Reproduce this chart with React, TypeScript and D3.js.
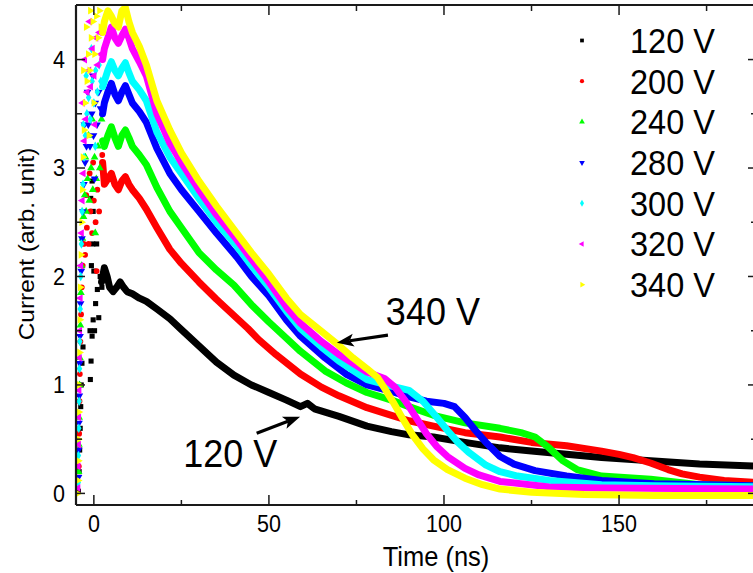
import React from 'react';
import * as d3 from 'd3';

const W = 753, H = 573;
const LEFT = 76, RIGHT = 757, TOP = 5, BOTTOM = 505;
const X_DOMAIN: [number, number] = [-5.1, 189.4];
const Y_DOMAIN: [number, number] = [-0.107, 4.503];

// ---- data ----
const seriesLabels = ['120 V', '200 V', '240 V', '280 V', '300 V', '320 V', '340 V'];

const rise120 = [[-4.4,0.02],[-4.2,0.2],[-4.05,0.4],[-3.9,0.6],[-3.75,0.8],[-3.6,1.0],[-3.4,1.2],[-3.1,1.35],[-1.0,1.05],[-0.8,1.22],[-0.5,1.45],[-0.2,1.6],[0.2,1.5],[-0.7,2.1],[-0.3,2.3],[-0.9,2.72],[-0.5,2.88],[-0.2,2.6],[0.5,1.75],[1.0,1.88],[1.4,1.62],[1.8,2.0],[2.3,1.9],[0.0,2.05],[-1.1,1.5],[0.8,2.3]];
const rise200 = [[-4.3,0.25],[-4.2,0.55],[-4.1,0.85],[-4.0,1.1],[-3.85,1.4],[-3.65,1.65],[-3.45,1.9],[-3.2,2.1],[-2.9,2.3],[-2.5,2.2],[-2.0,2.45],[-1.5,2.3],[-1.0,2.6],[-0.5,2.4],[0.0,2.7],[0.5,2.5],[1.0,2.8],[1.5,2.6],[2.0,3.0],[2.4,3.12],[-1.2,2.95],[-0.2,3.05],[0.8,2.05],[-2.2,2.75]];
const rise240 = [[-4.35,0.2],[-4.3,0.45],[-4.2,0.7],[-4.1,1.0],[-4.0,1.25],[-3.85,1.55],[-3.7,1.85],[-3.5,2.1],[-3.25,2.35],[-2.95,2.55],[-2.6,2.75],[-2.2,2.6],[-1.8,2.9],[-1.3,2.7],[-0.8,3.0],[-0.3,2.8],[0.2,3.1],[0.7,2.9],[1.2,3.2],[1.7,3.0],[2.2,3.45],[-1.5,3.3],[-0.5,3.45],[0.4,2.4],[-2.4,3.1]];
const rise280 = [[-4.4,0.15],[-4.35,0.4],[-4.25,0.65],[-4.15,0.9],[-4.05,1.2],[-3.95,1.45],[-3.8,1.75],[-3.6,2.05],[-3.4,2.35],[-3.15,2.6],[-2.85,2.85],[-2.5,3.05],[-2.1,3.2],[-1.6,3.4],[-1.1,3.2],[-0.6,3.5],[-0.1,3.3],[0.4,3.6],[0.9,3.4],[1.4,3.7],[1.9,3.55],[-1.8,3.7],[-0.3,3.85],[0.2,2.9],[-2.7,3.4]];
const rise300 = [[-4.45,0.1],[-4.4,0.35],[-4.3,0.6],[-4.2,0.85],[-4.1,1.15],[-4.0,1.4],[-3.9,1.7],[-3.75,2.0],[-3.55,2.3],[-3.35,2.6],[-3.1,2.85],[-2.8,3.1],[-2.4,3.3],[-2.0,3.5],[-1.5,3.65],[-1.0,3.45],[-0.5,3.8],[0.0,3.6],[0.5,3.9],[1.0,3.7],[1.5,3.95],[2.0,3.8],[-2.2,3.85],[-0.7,4.1],[0.4,3.2],[-3.0,3.4]];
const rise320 = [[-4.5,0.05],[-4.45,0.25],[-4.35,0.45],[-4.3,0.7],[-4.2,0.95],[-4.1,1.25],[-4.0,1.5],[-3.85,1.8],[-3.7,2.1],[-3.5,2.4],[-3.3,2.7],[-3.0,2.95],[-2.7,3.25],[-2.3,3.45],[-1.9,3.7],[-1.4,3.9],[-0.9,3.75],[-0.4,4.1],[0.1,3.85],[0.6,4.2],[1.1,3.95],[1.6,4.25],[2.0,4.05],[-2.6,4.0],[-1.2,4.35],[0.3,3.4],[-3.2,3.6]];
const rise340 = [[-4.6,0.0],[-4.5,0.12],[-4.45,0.3],[-4.4,0.5],[-4.3,0.75],[-4.2,1.0],[-4.1,1.3],[-4.0,1.6],[-3.9,1.9],[-3.7,2.2],[-3.5,2.5],[-3.3,2.8],[-3.1,3.1],[-2.8,3.35],[-2.5,3.6],[-2.0,3.8],[-1.6,4.05],[-1.2,3.9],[-0.8,4.2],[-0.3,4.35],[0.2,4.05],[0.7,4.4],[1.2,4.2],[1.6,4.45],[2.0,4.3],[-2.2,4.3],[-1.0,4.45],[0.0,3.6],[-3.0,3.9],[-1.4,3.3]];

const decay120 = [[2.2,1.95],[3,2.08],[3.8,2.0],[4.5,1.9],[5.5,1.86],[6.5,1.9],[7.5,1.95],[8.5,1.9],[9.5,1.86],[11,1.84],[13,1.8],[15,1.77],[18,1.7],[21.7,1.61],[25,1.51],[30,1.36],[35,1.21],[40,1.09],[45,1.0],[50,0.93],[55,0.86],[59,0.8],[61,0.83],[63,0.78],[70,0.71],[78,0.62],[85,0.57],[90,0.54],[97,0.52],[106,0.47],[116,0.42],[125,0.39],[135,0.36],[145,0.33],[159,0.3],[173,0.27],[190,0.25]];
const decay200 = [[2.5,3.05],[3,2.85],[4,2.9],[5,2.95],[6,2.85],[7,2.8],[8,2.88],[9,2.92],[10,2.85],[11,2.8],[13,2.72],[15,2.62],[18,2.45],[21.7,2.25],[25,2.12],[30,1.95],[35,1.79],[40,1.64],[44,1.52],[47,1.42],[52,1.28],[59,1.1],[65,0.98],[70,0.9],[78,0.79],[85,0.72],[90,0.67],[97,0.62],[106,0.56],[116,0.52],[125,0.47],[135,0.44],[145,0.39],[150,0.36],[154,0.33],[159,0.28],[164,0.22],[168,0.18],[173,0.15],[180,0.12],[190,0.1]];
const decay240 = [[2.5,3.25],[3,3.2],[4,3.3],[5,3.38],[6,3.28],[7,3.2],[8,3.3],[9,3.35],[10,3.28],[11,3.2],[13,3.12],[15,3.03],[18,2.82],[21.7,2.6],[25,2.45],[30,2.22],[35,2.06],[40,1.92],[45,1.74],[50,1.58],[55,1.43],[59,1.31],[66,1.13],[72,1.02],[78,0.93],[85,0.86],[90,0.8],[97,0.72],[106,0.65],[116,0.6],[122,0.56],[126,0.52],[130,0.42],[134,0.3],[138,0.22],[145,0.16],[159,0.13],[173,0.08],[190,0.07]];
const decay280 = [[2.5,3.5],[3,3.6],[4,3.7],[5,3.78],[6,3.68],[7,3.62],[8,3.7],[9,3.76],[10,3.68],[11,3.6],[13,3.52],[15,3.42],[18,3.18],[21.7,2.95],[25,2.8],[30,2.6],[35,2.4],[40.8,2.18],[45,2.0],[50,1.82],[55,1.6],[59,1.45],[66,1.25],[72,1.1],[78,1.0],[85,0.94],[90,0.89],[95,0.85],[100,0.83],[103,0.8],[106,0.7],[109,0.58],[112,0.47],[116,0.34],[120,0.27],[126,0.21],[135,0.16],[145,0.12],[160,0.09],[175,0.08],[190,0.07]];
const decay300 = [[2.5,3.75],[3,3.8],[4,3.9],[5,3.98],[6,3.9],[7,3.85],[8,3.92],[9,3.97],[10,3.88],[11,3.8],[13,3.72],[15,3.62],[18,3.33],[21.7,3.1],[25,2.95],[30,2.72],[35,2.5],[40.8,2.28],[45,2.1],[50,1.9],[55,1.68],[59,1.52],[65,1.35],[70,1.22],[78,1.05],[85,0.99],[90,0.95],[94,0.85],[98,0.7],[101,0.58],[104,0.47],[107,0.38],[112,0.26],[116,0.2],[121,0.16],[130,0.12],[145,0.08],[160,0.07],[190,0.06]];
const decay320 = [[2.5,4.0],[3,4.1],[4,4.2],[5,4.3],[6,4.2],[7,4.15],[8,4.22],[9,4.28],[10,4.2],[11,4.1],[13,3.98],[15,3.85],[18,3.5],[21.7,3.23],[25,3.05],[30,2.8],[35,2.57],[40.8,2.34],[45,2.16],[50,1.95],[55,1.72],[59,1.57],[65,1.4],[70,1.28],[78,1.12],[83,1.06],[86,0.98],[89,0.85],[92,0.7],[95,0.55],[98,0.43],[101,0.34],[106,0.23],[110,0.17],[116,0.11],[130,0.06],[145,0.05],[190,0.04]];
const decay340 = [[2.5,4.25],[3,4.35],[4,4.45],[5,4.4],[6,4.33],[7,4.3],[8,4.45],[9,4.48],[10,4.35],[11,4.25],[13,4.12],[15,3.95],[18,3.62],[21.7,3.35],[25,3.14],[30,2.88],[35,2.65],[40.8,2.4],[45,2.22],[50,2.02],[55,1.8],[59,1.65],[64,1.52],[69.4,1.38],[74,1.25],[78,1.15],[81,1.07],[83,0.97],[85.5,0.84],[88,0.7],[91,0.54],[94,0.41],[97,0.31],[101,0.22],[106,0.14],[111,0.08],[116,0.04],[125,0.01],[140,-0.01],[160,-0.02],[190,-0.02]];

const riseData = [rise120, rise200, rise240, rise280, rise300, rise320, rise340];
const decayData = [decay120, decay200, decay240, decay280, decay300, decay320, decay340];

const xMajorTicks = [0, 50, 100, 150];
const xMinorTicks = [25, 75, 125, 175];
const yMajorTicks = [0, 1, 2, 3, 4];
const yMinorTicks = [0.5, 1.5, 2.5, 3.5];

const xTitle = 'Time (ns)';
const yTitle = 'Current (arb. unit)';

const annoLabels = ['340 V', '120 V'];
const annoTip = [[69.4, 1.39], [58.9, 0.707]];
const annoTail = [[84.0, 1.46], [46.5, 0.554]];
const annoText = [[83.4, 1.55], [25.5, 0.244]];

// ---- styles ----
const COLORS = ['#000000', '#ff0000', '#00ff00', '#0000ff', '#00ffff', '#ff00ff', '#ffff00'];
const SYMS = [
  { type: d3.symbolSquare, rot: 0 },
  { type: d3.symbolCircle, rot: 0 },
  { type: d3.symbolTriangle, rot: 0 },
  { type: d3.symbolTriangle, rot: 180 },
  { type: d3.symbolDiamond, rot: 0 },
  { type: d3.symbolTriangle, rot: -90 },
  { type: d3.symbolTriangle, rot: 90 },
];
const FONT = "'Liberation Sans', Arial, sans-serif";
const SY = 1.08;
const AXIS = '#1a1a1a';

function T({ x, y, size, anchor = 'start', rotate = false, children }: any) {
  return (
    <text
      transform={`translate(${x},${y}) scale(1,${SY})${rotate ? ' rotate(-90)' : ''}`}
      fontSize={size}
      fontFamily={FONT}
      textAnchor={anchor}
      fill="#000"
    >
      {children}
    </text>
  );
}

function Arrow({ x1, y1, x2, y2 }: any) {
  const dx = x2 - x1, dy = y2 - y1;
  const len = Math.hypot(dx, dy);
  const ux = dx / len, uy = dy / len;
  const hl = 17, hw = 6.5;
  const bx = x2 - ux * hl, by = y2 - uy * hl;
  const pts = [
    [x2, y2],
    [bx - uy * hw, by + ux * hw],
    [bx + ux * 4, by + uy * 4],
    [bx + uy * hw, by - ux * hw],
  ];
  return (
    <g>
      <line x1={x1} y1={y1} x2={bx + ux * 4} y2={by + uy * 4} stroke="#000" strokeWidth={3.2} />
      <polygon points={pts.map(p => p.join(',')).join(' ')} fill="#000" />
    </g>
  );
}

export default function App() {
  const x = d3.scaleLinear().domain(X_DOMAIN).range([LEFT, RIGHT]);
  const y = d3.scaleLinear().domain(Y_DOMAIN).range([BOTTOM, TOP]);
  const line = d3.line<number[]>().x(d => x(d[0])).y(d => y(d[1])).curve(d3.curveLinear);

  const symPath = (i: number, size: number) => d3.symbol().type(SYMS[i].type).size(size)() as string;

  const legendX = 582, legendTextX = 630, legendY0 = 40.5, legendDy = 40.7;

  return (
    <svg width={W} height={H} style={{ position: 'absolute', left: 0, top: 0, display: 'block', background: '#fff' }}>
      <defs>
        <clipPath id="plot">
          <rect x={LEFT + 1} y={TOP + 1} width={RIGHT - LEFT - 2} height={BOTTOM - TOP - 2} />
        </clipPath>
      </defs>
      <rect x={0} y={0} width={W} height={H} fill="#fff" />

      <g clipPath="url(#plot)">
        {decayData.map((d, i) => (
          <g key={i}>
            {riseData[i].map((p, j) => (
              <path
                key={j}
                d={symPath(i, 26)}
                transform={`translate(${x(p[0])},${y(p[1])}) rotate(${SYMS[i].rot})`}
                fill={COLORS[i]}
              />
            ))}
            <path
              d={line(d) as string}
              fill="none"
              stroke={COLORS[i]}
              strokeWidth={7}
              strokeLinejoin="round"
              strokeLinecap="round"
            />
          </g>
        ))}
      </g>

      {/* frame */}
      <line x1={LEFT} y1={TOP} x2={RIGHT} y2={TOP} stroke={AXIS} strokeWidth={2} />
      <line x1={LEFT} y1={BOTTOM} x2={RIGHT} y2={BOTTOM} stroke={AXIS} strokeWidth={2.2} />
      <line x1={LEFT} y1={TOP} x2={LEFT} y2={BOTTOM} stroke={AXIS} strokeWidth={2.2} />
      <line x1={RIGHT} y1={TOP} x2={RIGHT} y2={BOTTOM} stroke={AXIS} strokeWidth={2} />

      {/* x ticks */}
      {xMajorTicks.map(t => (
        <g key={'xM' + t}>
          <line x1={x(t)} x2={x(t)} y1={BOTTOM} y2={BOTTOM - 10} stroke={AXIS} strokeWidth={1.5} />
          <line x1={x(t)} x2={x(t)} y1={TOP} y2={TOP + 10} stroke={AXIS} strokeWidth={1.5} />
          <T x={x(t)} y={532} size={21.5} anchor="middle">{String(t)}</T>
        </g>
      ))}
      {xMinorTicks.map(t => (
        <g key={'xm' + t}>
          <line x1={x(t)} x2={x(t)} y1={BOTTOM} y2={BOTTOM - 5} stroke={AXIS} strokeWidth={1.5} />
          <line x1={x(t)} x2={x(t)} y1={TOP} y2={TOP + 6} stroke={AXIS} strokeWidth={1.5} />
        </g>
      ))}

      {/* y ticks */}
      {yMajorTicks.map(v => (
        <g key={'yM' + v}>
          <line x1={LEFT} x2={LEFT + 9} y1={y(v)} y2={y(v)} stroke={AXIS} strokeWidth={1.5} />
          <line x1={RIGHT} x2={RIGHT - 9} y1={y(v)} y2={y(v)} stroke={AXIS} strokeWidth={1.5} />
          <T x={65} y={y(v) + 8.3} size={21.5} anchor="end">{String(v)}</T>
        </g>
      ))}
      {yMinorTicks.map(v => (
        <g key={'ym' + v}>
          <line x1={LEFT} x2={LEFT + 6} y1={y(v)} y2={y(v)} stroke={AXIS} strokeWidth={1.5} />
          <line x1={RIGHT} x2={RIGHT - 6} y1={y(v)} y2={y(v)} stroke={AXIS} strokeWidth={1.5} />
        </g>
      ))}

      {/* axis titles */}
      <T x={436} y={566} size={25.5} anchor="middle">{xTitle}</T>
      <T x={34} y={244} size={22.6} anchor="middle" rotate>{yTitle}</T>

      {/* legend */}
      {seriesLabels.map((s, i) => {
        const cy = legendY0 + i * legendDy;
        return (
          <g key={s}>
            <path d={symPath(i, 14)} transform={`translate(${legendX},${cy}) rotate(${SYMS[i].rot})`} fill={COLORS[i]} />
            <T x={legendTextX} y={cy + 12.4} size={32.5}>{s}</T>
          </g>
        );
      })}

      {/* annotations */}
      {annoLabels.map((s, i) => (
        <g key={s}>
          <Arrow x1={x(annoTail[i][0])} y1={y(annoTail[i][1])} x2={x(annoTip[i][0])} y2={y(annoTip[i][1])} />
          <T x={x(annoText[i][0])} y={y(annoText[i][1])} size={36}>{s}</T>
        </g>
      ))}
    </svg>
  );
}
